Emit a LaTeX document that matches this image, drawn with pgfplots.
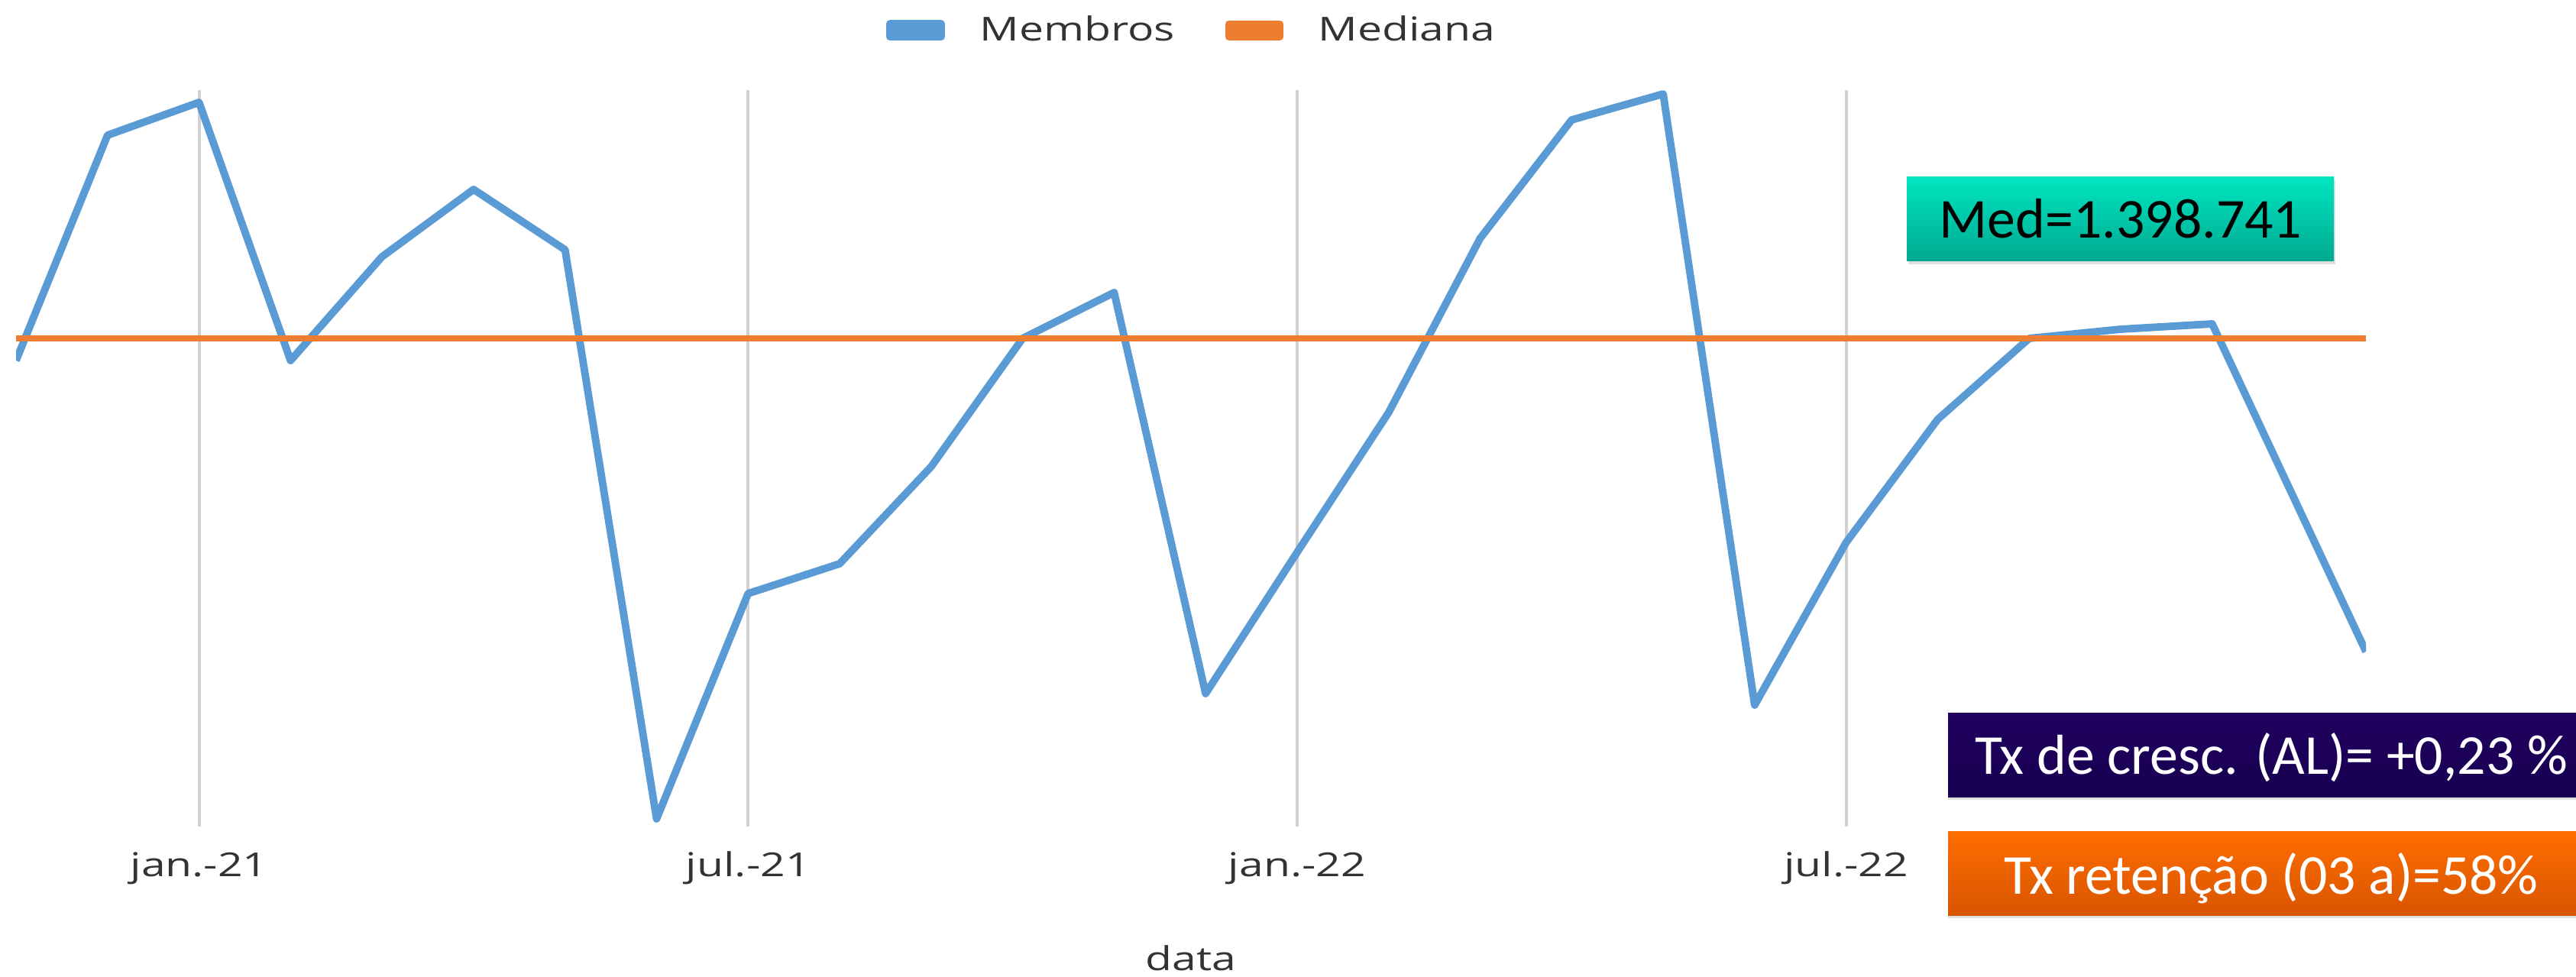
\documentclass[border=0pt]{standalone}
\usepackage{fontspec}
\setmainfont{Carlito}
\newfontfamily\chartfont{Open Sans}[FakeStretch=1.32]
\usepackage{pgfplots}
\pgfplotsset{compat=1.18}
\usetikzlibrary{shadows}

\definecolor{membros}{HTML}{5B9BD5}
\definecolor{mediana}{HTML}{ED7D31}
\definecolor{gridgray}{HTML}{D0D0D0}
\definecolor{medtop}{HTML}{00E6C0}
\definecolor{medbot}{HTML}{00A890}
\definecolor{roxotop}{HTML}{21005F}
\definecolor{roxobot}{HTML}{170050}
\definecolor{lartop}{HTML}{FF6D00}
\definecolor{larbot}{HTML}{D85500}

\newcommand{\chartsize}{\chartfont\fontsize{12.3}{15}\selectfont}

\begin{document}
\begin{tikzpicture}
\clip (0,0) rectangle (33.72,12.78);
\begin{axis}[
  at={(0.21cm,1.96cm)}, anchor=south west,
  width=30.76cm, height=9.64cm, scale only axis,
  xmin=-2, xmax=23.68,
  ymin=1334841, ymax=1431241,
  axis line style={draw=none},
  major tick style={draw=none},
  ytick=\empty,
  xtick={0,6,12,18},
  xticklabels={jan.-21,jul.-21,jan.-22,jul.-22},
  xmajorgrids,
  grid style={color=gridgray, line width=1.1pt},
  xticklabel style={font=\chartsize, text=black!80, anchor=base, yshift=-0.65cm},
  xlabel={data},
  xlabel style={font=\chartsize, text=black!80, at={(axis description cs:0.5,0)}, anchor=base, yshift=-1.88cm},
  legend columns=2,
  legend cell align=left,
  legend style={at={(axis description cs:0.370,1.081)}, anchor=west,
    draw=none, fill=none, inner sep=0pt, font=\chartsize, text=black!80,
    nodes={inner sep=0pt},
    /tikz/every odd column/.append style={column sep=0.46cm},
    /tikz/every even column/.append style={column sep=0.66cm}},
  legend image code/.code={\fill[#1] (0cm,-0.085cm) rectangle (0.67cm,0.085cm);},
  line join=round,
]
% membros por mes (nov-20 .. nov-22, ultimo ponto cortado na borda)
\addplot[color=membros, line width=2.8pt] coordinates {
  (-2,1395841) (-1,1425341) (0,1429641) (1,1395841) (2,1409441)
  (3,1418241) (4,1410341) (5,1335841) (6,1365341) (7,1369241)
  (8,1381941) (9,1398741) (10,1404741) (11,1352241) (12,1370741)
  (13,1389041) (14,1411841) (15,1427341) (16,1430741) (17,1350741)
  (18,1372041) (19,1388141) (20,1398741) (21,1399941) (22,1400641)
  (23.68,1357741)
};
\addlegendentry{Membros}
\addplot[color=mediana, line width=2.5pt] coordinates {(-2,1398741) (23.68,1398741)};
\addlegendentry{Mediana}
\end{axis}

% caixas de texto
\path[top color=medtop, bottom color=medbot,
  drop shadow={shadow xshift=0.02cm, shadow yshift=-0.04cm, opacity=0.25}]
  (24.96,9.36) rectangle (30.55,10.46);
\node[anchor=base, inner sep=0pt, font=\fontsize{21}{25}\selectfont] at (27.76,9.66) {Med=1.398.741};

\path[top color=roxotop, bottom color=roxobot,
  drop shadow={shadow xshift=0cm, shadow yshift=-0.04cm, opacity=0.25}]
  (25.50,2.35) rectangle (33.72,3.45);
\node[anchor=base, inner sep=0pt, text=white, font=\fontsize{21}{25}\selectfont] at (29.73,2.65) {Tx de cresc. (AL)= +0,23 \%};

\path[top color=lartop, bottom color=larbot,
  drop shadow={shadow xshift=0cm, shadow yshift=-0.04cm, opacity=0.25}]
  (25.50,0.80) rectangle (33.72,1.90);
\node[anchor=base, inner sep=0pt, text=white, font=\fontsize{21}{25}\selectfont] at (29.73,1.08) {Tx retenção (03 a)=58\%};
\end{tikzpicture}
\end{document}
